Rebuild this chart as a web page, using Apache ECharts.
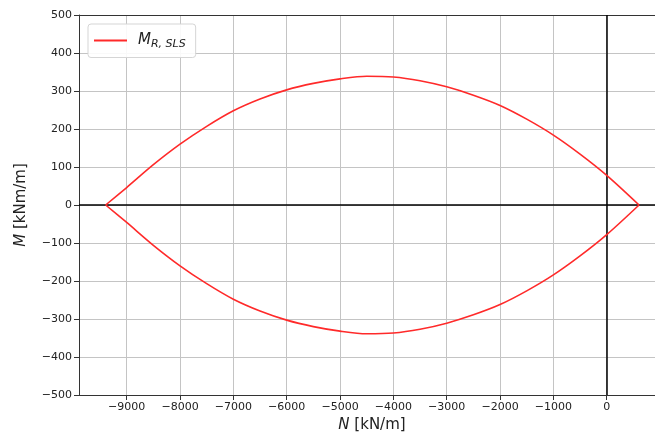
<!DOCTYPE html>
<html>
<head>
<meta charset="utf-8">
<script src="https://cdn.jsdelivr.net/npm/echarts@6/dist/echarts.min.js"></script>
<style>
  html, body { margin: 0; padding: 0; background: #fff; }
  #chart { width: 655px; height: 439px; }
</style>
</head>
<body>
<div id="chart"></div>
<script>
// values: N [kN/m] and M [kNm/m]
const nValues = [-9394, -9000, -8500, -8000, -7500, -7000, -6500, -6000, -5500, -5000, -4500, -4000, -3500, -3000, -2500, -2000, -1500, -1000, -500, 0, 606];
const mUpper = [0, 46, 106, 160, 207, 248, 279, 303, 320, 332, 339, 337, 327, 311, 289, 262, 226, 184, 134, 78, 0];
const mLower = [0, -46, -106, -160, -207, -248, -279, -303, -320, -332, -339, -337, -327, -311, -289, -262, -226, -184, -134, -78, 0];

const xTicks = [-9000, -8000, -7000, -6000, -5000, -4000, -3000, -2000, -1000, 0];
const yTicks = [-500, -400, -300, -200, -100, 0, 100, 200, 300, 400, 500];

const seriesName = 'M_R,SLS';
const minus = (v) => String(v).replace('-', '\u2212');

const chart = echarts.init(document.getElementById('chart'));

const upper = nValues.map((n, i) => [n, mUpper[i]]);
const lower = nValues.map((n, i) => [n, mLower[i]]);

const curveStyle = { color: '#ff2a2a', width: 1.6 };
const xMin = -9894;
const xMax = 905;

chart.setOption({
  animation: false,
  backgroundColor: '#fff',
  textStyle: { fontFamily: 'DejaVu Sans' },
  grid: {
    left: 79,
    top: 15,
    right: 0,
    bottom: 44
  },
  legend: {
    left: 88,
    top: 24,
    data: [seriesName],
    icon: 'rect',
    itemWidth: 33,
    itemHeight: 2,
    itemGap: 10,
    padding: [9, 10, 8, 6],
    backgroundColor: 'rgba(255,255,255,0.9)',
    borderColor: '#d5d5d5',
    borderWidth: 1,
    borderRadius: 3,
    formatter: () => '{i|M}{s|R, SLS}',
    textStyle: {
      rich: {
        i: { fontFamily: 'DejaVu Sans', fontStyle: 'italic', fontSize: 15, color: '#222', padding: [0, 0, 0, 6] },
        s: { fontFamily: 'DejaVu Sans', fontStyle: 'italic', fontSize: 11, color: '#222', padding: [7, 0, 0, 0] }
      }
    }
  },
  xAxis: [
    {
      type: 'value',
      min: xMin,
      max: xMax,
      name: '{i|N} [kN/m]',
      nameLocation: 'middle',
      nameGap: 23,
      nameTextStyle: {
        fontFamily: 'DejaVu Sans',
        fontSize: 15,
        color: '#222',
        padding: [0, 0, 0, 10],
        rich: { i: { fontFamily: 'DejaVu Sans', fontStyle: 'italic', fontSize: 15, color: '#222' } }
      },
      axisLine: { show: true, onZero: false, lineStyle: { color: '#333', width: 1 } },
      axisTick: { show: true, length: 5, customValues: xTicks, lineStyle: { color: '#333' } },
      axisLabel: {
        customValues: xTicks,
        fontSize: 11,
        color: '#222',
        margin: 7,
        formatter: minus
      },
      splitLine: { show: true, lineStyle: { color: '#c4c4c4', width: 1 } }
    },
    {
      // top spine only
      type: 'value',
      position: 'top',
      min: xMin,
      max: xMax,
      axisLine: { show: true, onZero: false, lineStyle: { color: '#333', width: 1 } },
      axisTick: { show: false },
      axisLabel: { show: false },
      splitLine: { show: false }
    }
  ],
  yAxis: {
    type: 'value',
    min: -500,
    max: 500,
    interval: 100,
    name: '{i|M} [kNm/m]',
    nameLocation: 'middle',
    nameGap: 50,
    nameTextStyle: {
      fontFamily: 'DejaVu Sans',
      fontSize: 15,
      color: '#222',
      rich: { i: { fontFamily: 'DejaVu Sans', fontStyle: 'italic', fontSize: 15, color: '#222' } }
    },
    axisLine: { show: true, onZero: false, lineStyle: { color: '#333', width: 1 } },
    axisTick: { show: true, length: 5, lineStyle: { color: '#333' } },
    axisLabel: {
      customValues: yTicks,
      fontSize: 11,
      color: '#222',
      margin: 7,
      formatter: minus
    },
    splitLine: { show: true, lineStyle: { color: '#c4c4c4', width: 1 } }
  },
  series: [
    {
      name: seriesName,
      type: 'line',
      data: upper,
      symbol: 'none',
      smooth: 0.3,
      lineStyle: curveStyle,
      itemStyle: { color: curveStyle.color },
      z: 3,
      markLine: {
        silent: true,
        symbol: 'none',
        label: { show: false },
        lineStyle: { color: '#000', width: 1.5, type: 'solid' },
        data: [{ xAxis: 0 }, { yAxis: 0 }],
        z: 2
      }
    },
    {
      name: seriesName,
      type: 'line',
      data: lower,
      symbol: 'none',
      smooth: 0.3,
      lineStyle: curveStyle,
      itemStyle: { color: curveStyle.color },
      z: 3
    }
  ]
});
</script>
</body>
</html>
